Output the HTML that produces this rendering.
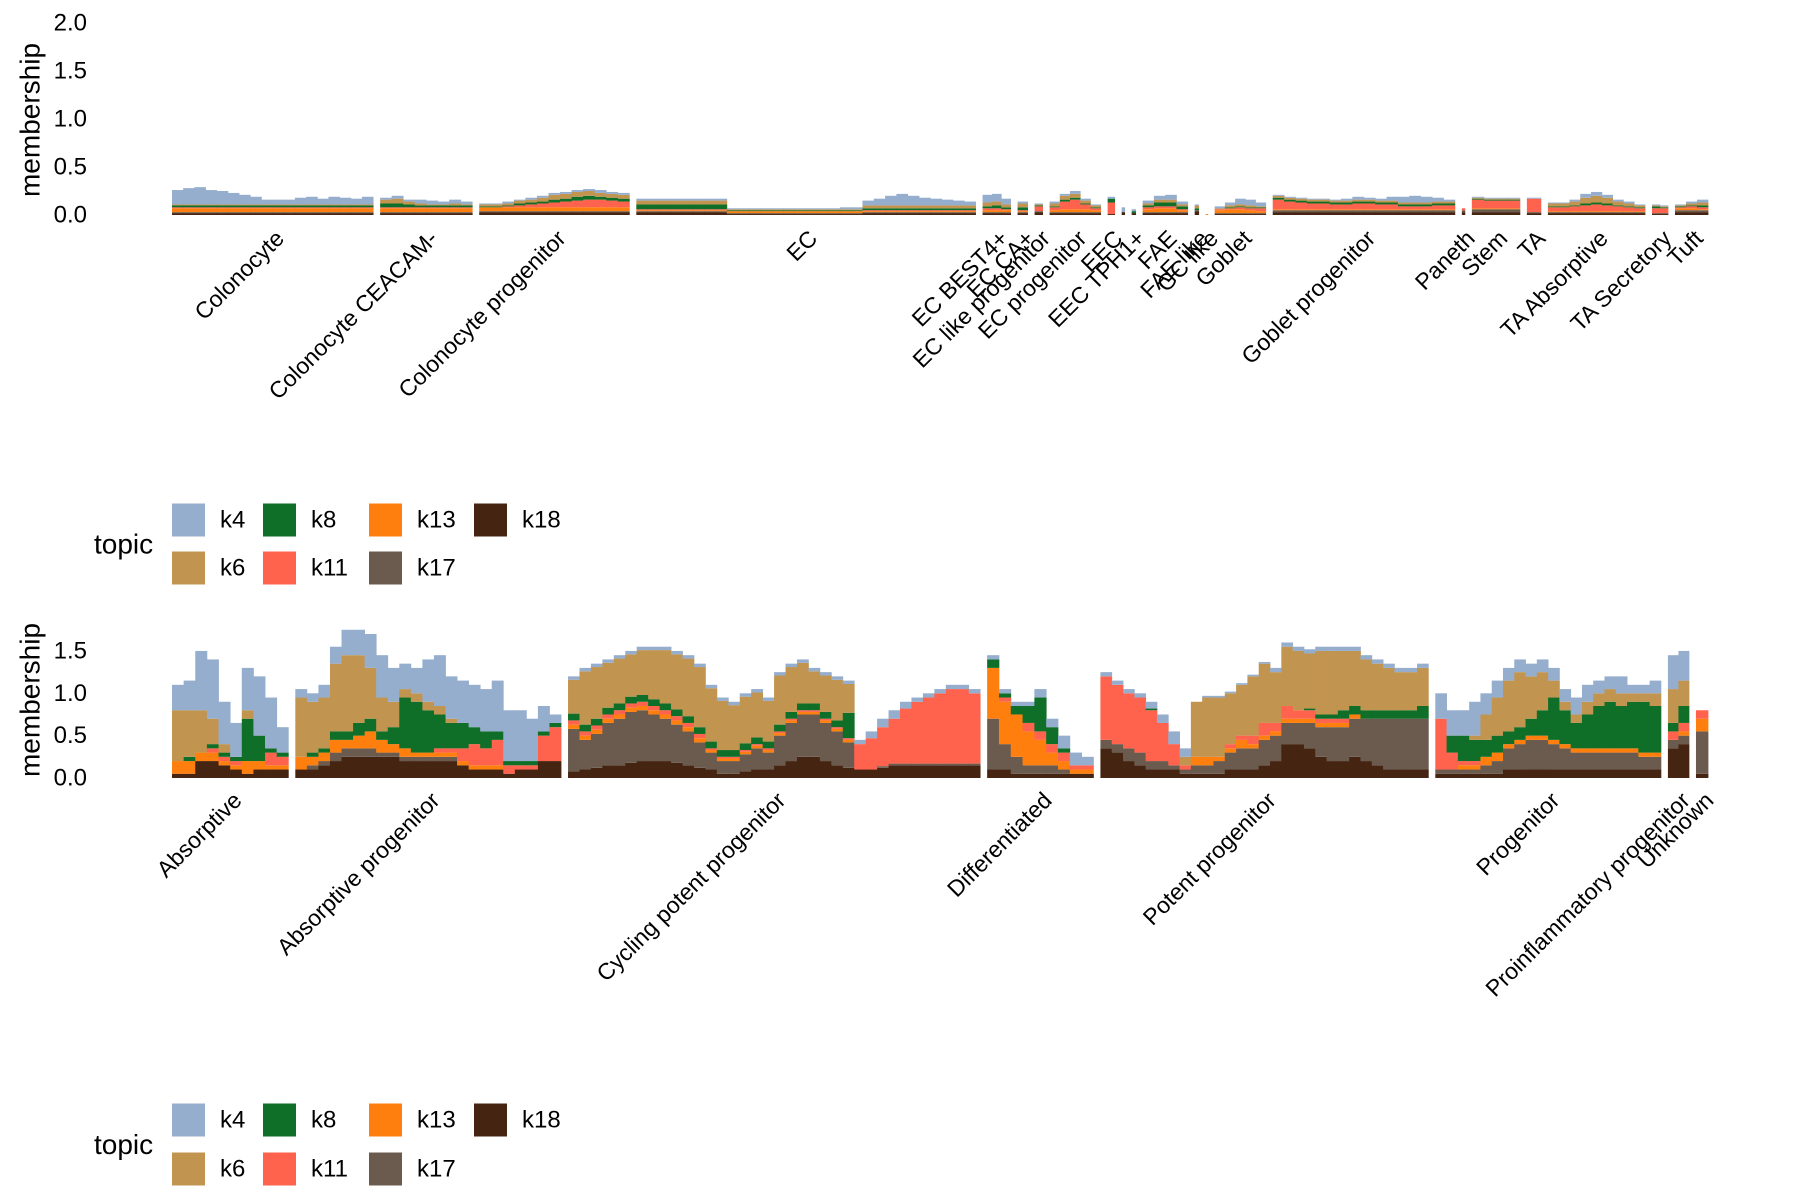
<!DOCTYPE html>
<html><head><meta charset="utf-8"><title>Topic membership</title>
<style>
html,body{margin:0;padding:0;background:#fff;}
svg{display:block;font-family:"Liberation Sans",Arial,sans-serif;}
</style></head>
<body>
<svg id="chart" width="1800" height="1200" viewBox="0 0 1800 1200" xmlns="http://www.w3.org/2000/svg">
<rect x="0" y="0" width="1800" height="1200" fill="#fff"/>
<g id="top-panel"></g>
<g id="bottom-panel"></g>
<g id="legends"></g>
</svg>
<script>
// ---------- data ----------
const topics = ["k4","k6","k8","k11","k13","k17","k18"];
const topicColors = {k4:"#96AECE",k6:"#C19450",k8:"#0F6E27",k11:"#FF634E",k13:"#FF7F0E",k17:"#6B5B4F",k18:"#452512"};
const stackOrder = ["k18","k17","k13","k11","k8","k6","k4"];

// top panel categories
const topGroupNames = ["Colonocyte","Colonocyte CEACAM-","Colonocyte progenitor","EC","EC BEST4+","EC CA+","EC like progenitor","EC progenitor","EEC","","EEC TPH1+","FAE","FAE like","GC like","Goblet","Goblet progenitor","Paneth","Stem","TA","TA Absorptive","TA Secretory","Tuft"];
const topGroupCells = [201,92,150,339,28,10,8,51,7,3,4,45,4,2,51,182,3,48,14,97,16,33];
const topGroupBins  = [18,8,13,30,3,1,1,5,1,1,1,4,1,1,5,16,1,4,1,9,2,3];
const topTicks = ["0.0","0.5","1.0","1.5","2.0"];
const topTickValues = [0,0.5,1,1.5,2];

const topK4 = [.15,.17,.18,.15,.14,.12,.1,.08,.05,.05,.05,.07,.08,.06,.08,.07,.06,.08,
 .02,.03,.02,.04,.04,.03,.04,.03,
 .01,.01,.02,.01,.02,.02,.02,.02,.02,.02,.03,.02,.02,
 .02,.02,.02,.02,.02,.02,.02,.02,.01,.01,.01,.01,.01,.01,.01,.01,.01,.01,.02,.02,.05,.07,.1,.12,.1,.08,.07,.06,.05,.04,
 .08,.08,.06, .02, .01, .02,.02,.03,.02,.01, .02, .05, .02, .03,.04,.05,.03, .01, 0,
 .02,.03,.06,.06,.04,
 .01,.01,.01,.01,.01,.01,.02,.03,.02,.02,.04,.06,.07,.06,.04,.02,
 0, .01,.01,.01,.01, .01, .01,.01,.02,.04,.04,.03,.02,.02,.01, .01,.01, .01,.02,.03];
const topK6 = [.01,.01,.01,.01,.01,.01,.01,.01,.01,.01,.01,.01,.01,.01,.01,.01,.01,.01,
 .04,.05,.03,.02,.01,.01,.02,.01,
 .02,.02,.02,.03,.03,.04,.05,.05,.05,.05,.04,.04,.04,
 .04,.04,.04,.04,.04,.04,.04,.04,.01,.01,.01,.01,.01,.01,.01,.01,.01,.01,.01,.01,.03,.03,.03,.03,.03,.03,.03,.03,.03,.03,
 .04,.04,.03, .04, .01, .03,.04,.04,.03,.02, 0, 0, 0, .02,.03,.03,.02, .03, 0,
 .01,.02,.02,.02,.01,
 .02,.02,.02,.02,.02,.02,.02,.02,.02,.02,.02,.02,.02,.02,.02,.02,
 0, .01,.01,.01,.01, 0, .03,.03,.04,.06,.07,.06,.04,.03,.02, .01,.01, .01,.02,.03];
const topK8 = [.02,.02,.02,.02,.02,.02,.02,.02,.02,.02,.02,.02,.02,.02,.02,.02,.02,.02,
 .04,.04,.03,.02,.02,.02,.02,.02,
 .01,.01,.01,.02,.02,.02,.03,.03,.04,.04,.03,.03,.03,
 .05,.05,.05,.05,.05,.05,.05,.05,.01,.01,.01,.01,.01,.01,.01,.01,.01,.01,.01,.01,.02,.02,.02,.02,.02,.02,.02,.02,.02,.02,
 .02,.03,.02, .03, .01, .01,.02,.02,.01,.01, .04, 0, .02, .02,.04,.04,.03, .02, 0,
 0,.01,.01,.01,.01,
 .02,.02,.02,.02,.02,.02,.02,.02,.02,.02,.02,.02,.02,.02,.02,.02,
 0, .01,.01,.01,.01, 0, .01,.01,.01,.02,.02,.02,.01,.01,.01, .02,.01, .01,.01,.02];
const topK11 = [.01,.01,.01,.01,.01,.01,.01,.01,.01,.01,.01,.01,.01,.01,.01,.01,.01,.01,
 .01,.01,.01,.01,.01,.01,.01,.01,
 0,0,.01,.02,.03,.04,.05,.06,.07,.08,.08,.07,.06,
 .01,.01,.01,.01,.01,.01,.01,.01,0,0,0,0,0,0,0,0,0,0,0,0,.01,.01,.01,.01,.01,.01,.01,.01,.01,.01,
 .02,.02,.01, .01, .05, .03,.08,.1,.05,.02, .12, 0, 0, .02,.02,.02,.01, 0, 0,
 .01,.01,.02,.02,.03,
 .1,.08,.07,.06,.06,.05,.05,.06,.06,.05,.05,.03,.03,.03,.04,.04,
 .02, .09,.08,.08,.08, .14, .04,.04,.05,.06,.07,.06,.05,.04,.03, .05,.05, .01,.02,.02];
const topK13 = [.04,.04,.04,.04,.04,.04,.04,.04,.04,.04,.04,.04,.04,.04,.04,.04,.04,.04,
 .04,.04,.04,.04,.04,.04,.04,.04,
 .04,.04,.04,.04,.04,.04,.04,.04,.04,.04,.04,.04,.04,
 .01,.01,.01,.01,.01,.01,.01,.01,.02,.02,.02,.02,.02,.02,.02,.02,.02,.02,.02,.02,.01,.01,.01,.01,.01,.01,.01,.01,.01,.01,
 .02,.02,.02, .01, 0, .02,.03,.03,.03,.02, 0, 0, 0, .03,.04,.04,.02, 0, .01,
 .03,.04,.04,.03,.02,
 .01,.01,.01,.01,.01,.01,.01,.01,.01,.01,.01,.01,.01,.01,.01,.01,
 0, .01,.01,.01,.01, 0, .01,.01,.01,.01,.01,.01,.01,.01,.01, 0,0, .02,.02,.01];
const topK17 = [.01,.01,.01,.01,.01,.01,.01,.01,.01,.01,.01,.01,.01,.01,.01,.01,.01,.01,
 .01,.01,.01,.01,.01,.01,.01,.01,
 .01,.01,.01,.01,.01,.01,.01,.01,.01,.01,.01,.01,.01,
 .01,.01,.01,.01,.01,.01,.01,.01,.01,.01,.01,.01,.01,.01,.01,.01,.01,.01,.01,.01,.01,.01,.01,.01,.01,.01,.01,.01,.01,.01,
 .01,.01,.01, .01, .01, .01,.01,.01,.01,.01, 0, 0, 0, .01,.01,.01,.01, .01, 0,
 .01,.01,.01,.01,.01,
 .02,.02,.02,.02,.02,.02,.02,.02,.02,.02,.02,.02,.02,.02,.02,.02,
 .02, .03,.03,.03,.03, .01, .01,.01,.01,.01,.01,.01,.01,.01,.01, .01,.01, .02,.02,.02];
const topK18 = [.02,.02,.02,.02,.02,.02,.02,.02,.02,.02,.02,.02,.02,.02,.02,.02,.02,.02,
 .02,.02,.02,.02,.02,.02,.02,.02,
 .03,.03,.03,.03,.03,.03,.03,.03,.03,.03,.03,.03,.03,
 .03,.03,.03,.03,.03,.03,.03,.03,.01,.01,.01,.01,.01,.01,.01,.01,.01,.01,.01,.01,.02,.02,.02,.02,.02,.02,.02,.02,.02,.02,
 .02,.02,.02, .02, .03, .02,.02,.02,.02,.02, .01, .03, .02, .02,.02,.02,.02, .04, 0,
 .01,.01,.01,.01,.01,
 .03,.03,.03,.03,.03,.03,.03,.03,.03,.03,.03,.03,.03,.03,.03,.03,
 .03, .03,.03,.03,.03, .02, .02,.02,.02,.02,.02,.02,.02,.02,.02, .01,.01, .03,.03,.03];

// bottom panel categories
const bottomGroupNames = ["Absorptive","Absorptive progenitor","Cycling potent progenitor","Differentiated","Potent progenitor","Progenitor","Proinflammatory progenitor","Unknown"];
const bottomGroupCells = [116,265,411,106,327,225,21,12];
const bottomGroupBins  = [10,23,36,9,29,20,2,1];
const bottomTicks = ["0.0","0.5","1.0","1.5"];
const bottomTickValues = [0,0.5,1,1.5];

const bottomK4 = [.3,.35,.7,.7,.5,.4,.5,.7,.6,.3,
 .1,.1,.15,.2,.3,.3,.4,.5,.4,.3,.3,.5,.6,.5,.5,.5,.5,.6,.6,.6,.5,.3,.1,
 .04,.04,.04,.04,.04,.04,.04,.04,.04,.04,.04,.04,.04,.04,.04,.04,.04,.04,.04,.04,.04,.04,.04,.04,.04,.05,.08,.1,.1,.08,.05,.05,.05,.05,.05,.05,
 .05,.05,.05,.05,.1,.1,.15,.15,.1,
 .05,.05,.05,.05,.08,.1,.15,.1,0,.02,.02,.02,.02,.02,.02,.05,.05,.05,.05,.05,.05,.05,.05,.05,.05,.05,.05,.05,.05,
 .3,.3,.3,.4,.25,.2,.15,.15,.15,.15,.15,.15,.2,.2,.15,.15,.2,.1,.1,.15,
 .4,.35, 0];
const bottomK6 = [.6,.55,.5,.3,.1,0,.1,0,0,0,
 .7,.6,.6,.8,.9,.8,.6,.4,.3,.1,.1,.1,.1,.05,0,0,0,0,0,0,0,0,0,
 .40,.63,.61,.53,.53,.50,.53,.58,.63,.65,.68,.71,.63,.58,.53,.55,.53,.48,.58,.53,.48,.38,.43,.48,.34,0,0,0,0,0,0,0,0,0,0,0,
 0,0,0,0,0,0,0,0,0,
 0,0,0,0,0,0,0,.1,.65,.7,.7,.6,.6,.7,.7,.6,.7,.7,.65,.75,.75,.7,.65,.6,.55,.5,.45,.45,.45,
 0,0,0,.05,.3,.45,.6,.65,.5,.45,.2,.1,.1,.15,.15,.15,.15,.1,.1,.15,
 .4,.3, 0];
const bottomK8 = [0,.05,0,.05,.05,.05,.5,.3,.05,.05,
 0,.05,.05,.1,.1,.15,.15,.1,.2,.6,.6,.5,.4,.3,.3,.2,.2,.1,.05,.05,.05,.05,.05,
 .08,.08,.08,.08,.08,.08,.08,.08,.08,.08,.08,.08,.08,.08,.08,.08,.08,.08,.08,.08,.08,.08,.08,.08,.3,0,0,0,0,0,0,0,0,0,0,0,
 .1,.05,.1,.2,.4,.2,.05,0,0,
 0,0,0,0,.02,0,0,0,0,0,0,0,0,0,0,0,0,0,.02,.05,.05,.1,.1,.1,.1,.1,.1,.1,.15,
 0,.2,.3,.25,.2,.2,.15,.15,.2,.3,.5,.4,.3,.4,.5,.55,.5,.55,.6,.55,
 .1,.2, 0];
const bottomK11 = [0,0,0,.05,.05,.05,0,0,.15,.1,
 0,0,0,0,0,0,0,0,0,0,0,0,.05,.05,.15,.25,.2,.3,.1,.05,.05,.3,.4,
 .05,.05,.05,.05,.05,.05,.05,.05,.05,.05,.05,.05,.02,.02,.02,.02,.02,.02,.02,.02,.02,.02,.02,.02,.02,.30,.37,.46,.53,.65,.73,.78,.83,.88,.88,.83,
 0,.05,0,.1,.1,.1,.1,.05,.05,
 .75,.7,.65,.65,.6,.45,.25,.05,0,0,0,.05,.05,.1,.15,.1,.15,.1,.1,.05,.05,.05,0,0,0,0,0,0,0,
 .6,.2,.05,.05,0,0,0,0,0,0,0,0,0,0,0,0,0,0,0,0,
 .1,.1, .1];
const bottomK13 = [.15,.15,.1,.1,.05,.05,.15,.1,.05,.05,
 .15,.1,.1,.15,.1,.15,.2,.15,.1,.1,.05,.05,.05,.05,.05,.05,.05,.05,0,0,0,0,0,
 .05,.05,.05,.05,.05,.05,.05,.05,.05,.05,.05,.05,.03,.03,.03,.03,.03,.03,.03,.03,.03,.03,.03,.03,.03,0,0,0,0,0,0,0,0,0,0,0,
 .6,.5,.5,.4,.3,.15,.1,.05,.05,
 0,0,0,0,0,0,0,0,.1,.1,.05,.05,.1,.05,.05,.05,.05,.05,.05,.05,.05,.05,.05,0,0,0,0,0,0,
 0,0,.05,.05,.1,.1,.05,.05,.05,.05,.05,.05,.05,.05,.05,.05,.05,.05,.05,.05,
 0,.05, .15];
const bottomK17 = [0,0,0,0,0,0,0,0,0,0,
 0,.05,.05,.1,.1,.1,.1,.05,.05,.05,.05,.05,.05,.05,0,0,0,0,0,0,0,0,0,
 .5,.35,.4,.5,.55,.6,.6,.55,.5,.45,.4,.3,.2,.15,.15,.2,.25,.2,.35,.45,.5,.5,.45,.4,.3,0,0,.02,.02,.02,.02,.02,.02,.02,.02,.02,
 .6,.3,.2,.1,.1,.1,.05,0,0,
 .1,.1,.15,.15,.1,.1,.05,.05,.1,.1,.15,.2,.25,.25,.3,.3,.25,.25,.3,.35,.4,.4,.45,.5,.55,.6,.6,.6,.6,
 .05,.05,.05,.05,.1,.15,.25,.3,.35,.35,.3,.25,.2,.2,.2,.2,.2,.2,.15,.15,
 .1,.1, .5];
const bottomK18 = [.05,.05,.2,.2,.15,.1,.05,.1,.1,.1,
 .1,.1,.15,.2,.25,.25,.25,.25,.25,.2,.2,.2,.2,.2,.15,.1,.1,.1,.05,.1,.1,.2,.2,
 .08,.1,.12,.15,.15,.18,.2,.2,.2,.18,.15,.12,.1,.05,.05,.08,.1,.1,.15,.2,.25,.25,.2,.15,.12,.1,.1,.12,.15,.15,.15,.15,.15,.15,.15,.15,
 .1,.1,.05,.05,.05,.05,.05,.05,.05,
 .35,.3,.2,.15,.1,.1,.1,.05,.05,.05,.05,.1,.1,.1,.15,.2,.4,.4,.35,.25,.2,.2,.25,.2,.15,.1,.1,.1,.1,
 .05,.05,.05,.05,.05,.05,.1,.1,.1,.1,.1,.1,.1,.1,.1,.1,.1,.1,.1,.1,
 .35,.4, .05];

const legendRow1 = ["k4","k8","k13","k18"];
const legendRow2 = ["k6","k11","k17"];

// ---------- drawing ----------
const NS = "http://www.w3.org/2000/svg";
function mk(tag, attrs, parent){
  const e = document.createElementNS(NS, tag);
  for (const k in attrs) e.setAttribute(k, attrs[k]);
  parent.appendChild(e);
  return e;
}
const PLOT_X0 = 172, PLOT_X1 = 1708, GAP = 7;

function drawPanel(g, cfg){
  const nG = cfg.cells.length;
  const totalCells = cfg.cells.reduce((a,b)=>a+b,0);
  const s = (PLOT_X1 - PLOT_X0 - GAP*(nG-1)) / totalCells;
  const yScale = v => cfg.base - v*cfg.unit;
  cfg.tickValues.forEach((v,i)=>{
    const t = mk("text",{x:87,y:yScale(v),"text-anchor":"end","dominant-baseline":"central","font-size":"24",fill:"#000"},g);
    
    
    t.textContent = cfg.ticks[i];
  });
  const yt = mk("text",{x:0,y:0,"text-anchor":"middle","dominant-baseline":"central","font-size":"28",fill:"#000",transform:`translate(30,${cfg.titleY}) rotate(-90)`},g);
  
  
  yt.textContent = "membership";

  let cellStart = 0, bin = 0;
  for (let gi=0; gi<nG; gi++){
    const gx0 = PLOT_X0 + cellStart*s + gi*GAP;
    const gw = cfg.cells[gi]*s;
    const nb = cfg.bins[gi];
    const bw = gw/nb;
    const grp = mk("g",{},g);
    
    
    for (let b=0;b<nb;b++){
      let acc = 0;
      const x = gx0 + b*bw;
      stackOrder.forEach(tp=>{
        const v = cfg.series[tp][bin] || 0;
        if (v<=0) return;
        const y1 = yScale(acc), y2 = yScale(acc+v);
        const r = mk("rect",{x:x.toFixed(2),y:y2.toFixed(2),width:(bw+0.4).toFixed(2),height:(y1-y2).toFixed(2),fill:topicColors[tp]},grp);
        
        
        acc += v;
      });
      bin++;
    }
    if (cfg.names[gi]){
      const tx = gx0 + gw/2 + 1;
      const lab = mk("text",{x:0,y:0,"text-anchor":"end","dominant-baseline":"hanging","font-size":"23",fill:"#000",transform:`translate(${tx.toFixed(1)},${cfg.labelY}) rotate(-45)`},g);
      
      
      lab.textContent = cfg.names[gi];
    }
    cellStart += cfg.cells[gi];
  }
}

drawPanel(document.getElementById("top-panel"),{
  names: topGroupNames, cells: topGroupCells, bins: topGroupBins,
  ticks: topTicks, tickValues: topTickValues,
  base: 215, unit: 96, titleY: 120, labelY: 228,
  series: {k4:topK4,k6:topK6,k8:topK8,k11:topK11,k13:topK13,k17:topK17,k18:topK18}
});
drawPanel(document.getElementById("bottom-panel"),{
  names: bottomGroupNames, cells: bottomGroupCells, bins: bottomGroupBins,
  ticks: bottomTicks, tickValues: bottomTickValues,
  base: 778, unit: 84.7, titleY: 700, labelY: 790,
  series: {k4:bottomK4,k6:bottomK6,k8:bottomK8,k11:bottomK11,k13:bottomK13,k17:bottomK17,k18:bottomK18}
});

function drawLegend(parent, cy1, cy2){
  const lg = mk("g",{},parent);
  
  
  const title = mk("text",{x:94,y:(cy1+cy2)/2,"dominant-baseline":"central","font-size":"28",fill:"#000"},lg);
  
  
  title.textContent = "topic";
  const colX = [172,263,369,474];
  [[legendRow1,cy1],[legendRow2,cy2]].forEach(([row,cy])=>{
    row.forEach((tp,i)=>{
      const sw = mk("rect",{x:colX[i],y:cy-16.5,width:33,height:33,fill:topicColors[tp]},lg);
      
      
      const t = mk("text",{x:colX[i]+48,y:cy,"dominant-baseline":"central","font-size":"24",fill:"#000"},lg);
      
      
      t.textContent = tp;
    });
  });
}
const legends = document.getElementById("legends");
drawLegend(legends, 520, 568);
drawLegend(legends, 1120, 1169);
</script>
</body></html>
